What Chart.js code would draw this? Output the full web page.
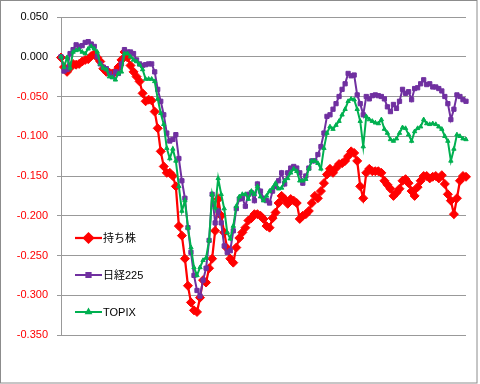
<!DOCTYPE html>
<html>
<head>
<meta charset="utf-8">
<title>持ち株 vs 日経225 vs TOPIX</title>
<script src="https://cdn.jsdelivr.net/npm/chart.js@4.4.1/dist/chart.umd.min.js"></script>
<style>
    html, body { margin: 0; padding: 0; background: #fff; }
    #wrap { position: relative; width: 480px; height: 384px; }
</style>
</head>
<body>
<div id="wrap"><canvas id="returnChart" width="480" height="384"></canvas></div>
<script>
// Series names
const seriesNames = ['持ち株', '日経225', 'TOPIX'];

// Cumulative return (one value per trading day)
const mochikabu = [
    -0.001, -0.013, -0.019, -0.014, -0.009, -0.010, -0.009, -0.006, -0.004, -0.003,
    0.001, 0.003, -0.001, -0.006, -0.015, -0.019, -0.020, -0.021, -0.019, -0.013,
    -0.004, 0.006, -0.001, -0.011, -0.019, -0.025, -0.031, -0.046, -0.056, -0.054,
    -0.055, -0.069, -0.090, -0.119, -0.138, -0.146, -0.146, -0.150, -0.163, -0.213,
    -0.225, -0.254, -0.288, -0.309, -0.319, -0.321, -0.303, -0.281, -0.284, -0.266,
    -0.254, -0.219, -0.179, -0.200, -0.221, -0.241, -0.254, -0.259, -0.240, -0.228,
    -0.221, -0.215, -0.206, -0.203, -0.198, -0.198, -0.200, -0.204, -0.213, -0.215,
    -0.203, -0.196, -0.184, -0.175, -0.179, -0.185, -0.179, -0.181, -0.184, -0.204,
    -0.200, -0.198, -0.194, -0.184, -0.175, -0.178, -0.169, -0.159, -0.148, -0.141,
    -0.146, -0.140, -0.135, -0.134, -0.131, -0.125, -0.119, -0.121, -0.131, -0.163,
    -0.178, -0.146, -0.141, -0.144, -0.144, -0.144, -0.146, -0.156, -0.161, -0.166,
    -0.175, -0.171, -0.166, -0.156, -0.154, -0.159, -0.169, -0.175, -0.164, -0.156,
    -0.150, -0.150, -0.153, -0.151, -0.150, -0.153, -0.149, -0.160, -0.173, -0.181,
    -0.198, -0.178, -0.156, -0.150, -0.151
];

const nikkei225 = [
    0.000, -0.018, -0.016, 0.004, 0.009, 0.015, 0.013, 0.014, 0.018, 0.019,
    0.016, 0.013, 0.000, -0.009, -0.013, -0.015, -0.021, -0.025, -0.019, -0.021,
    -0.009, 0.009, 0.006, 0.006, 0.004, -0.004, -0.009, -0.011, -0.010, -0.009,
    -0.009, -0.019, -0.041, -0.056, -0.073, -0.096, -0.106, -0.104, -0.098, -0.128,
    -0.156, -0.178, -0.215, -0.246, -0.275, -0.294, -0.301, -0.281, -0.266, -0.231,
    -0.173, -0.209, -0.194, -0.209, -0.238, -0.246, -0.244, -0.219, -0.191, -0.179,
    -0.178, -0.188, -0.173, -0.171, -0.181, -0.160, -0.169, -0.178, -0.181, -0.184,
    -0.169, -0.163, -0.156, -0.146, -0.160, -0.146, -0.140, -0.138, -0.140, -0.146,
    -0.159, -0.150, -0.140, -0.131, -0.131, -0.123, -0.113, -0.096, -0.075, -0.073,
    -0.066, -0.059, -0.050, -0.041, -0.034, -0.021, -0.024, -0.023, -0.048, -0.059,
    -0.073, -0.050, -0.053, -0.049, -0.048, -0.049, -0.050, -0.053, -0.063, -0.069,
    -0.060, -0.065, -0.056, -0.041, -0.046, -0.044, -0.054, -0.040, -0.039, -0.034,
    -0.029, -0.035, -0.034, -0.038, -0.038, -0.040, -0.043, -0.050, -0.059, -0.079,
    -0.066, -0.048, -0.050, -0.054, -0.056
];

const topix = [
    0.000, -0.013, -0.001, -0.014, 0.006, 0.008, 0.009, 0.006, 0.004, 0.010,
    0.013, 0.010, 0.006, -0.009, -0.014, -0.016, -0.025, -0.026, -0.029, -0.021,
    -0.019, 0.004, 0.004, 0.000, -0.004, -0.006, -0.010, -0.016, -0.028, -0.028,
    -0.028, -0.031, -0.053, -0.071, -0.085, -0.115, -0.128, -0.116, -0.131, -0.163,
    -0.194, -0.181, -0.215, -0.240, -0.265, -0.275, -0.265, -0.256, -0.253, -0.231,
    -0.173, -0.190, -0.153, -0.173, -0.191, -0.221, -0.229, -0.213, -0.188, -0.176,
    -0.173, -0.173, -0.179, -0.169, -0.173, -0.163, -0.176, -0.181, -0.175, -0.169,
    -0.165, -0.159, -0.166, -0.165, -0.156, -0.153, -0.146, -0.141, -0.144, -0.156,
    -0.156, -0.154, -0.141, -0.131, -0.131, -0.134, -0.141, -0.115, -0.096, -0.088,
    -0.091, -0.086, -0.081, -0.073, -0.066, -0.056, -0.053, -0.054, -0.066, -0.081,
    -0.113, -0.075, -0.079, -0.081, -0.083, -0.084, -0.079, -0.091, -0.096, -0.104,
    -0.106, -0.103, -0.096, -0.089, -0.090, -0.098, -0.106, -0.094, -0.090, -0.088,
    -0.079, -0.084, -0.085, -0.084, -0.085, -0.088, -0.091, -0.100, -0.106, -0.131,
    -0.116, -0.098, -0.100, -0.103, -0.104
];

// Day numbers for the category axis (not shown)
const days = mochikabu.map((_, i) => i + 1);

const FONT = '"Liberation Sans", "Noto Sans CJK JP", sans-serif';

// Legend drawn inside the plot area, Excel style
const insideLegend = {
    id: 'insideLegend',
    afterDraw(chart) {
        const ctx = chart.ctx;
        const rows = [238, 275, 312];
        chart.data.datasets.forEach((ds, i) => {
            const y = rows[i];
            ctx.save();
            ctx.strokeStyle = ds.borderColor;
            ctx.lineWidth = ds.borderWidth;
            ctx.beginPath();
            ctx.moveTo(75, y);
            ctx.lineTo(102, y);
            ctx.stroke();
            ctx.fillStyle = ds.backgroundColor;
            Chart.helpers.drawPoint(ctx, {
                pointStyle: ds.pointStyle,
                radius: ds.pointRadius,
                rotation: 0,
                borderWidth: 1
            }, 88.5, y);
            ctx.fillStyle = '#000';
            ctx.font = '11px ' + FONT;
            ctx.textBaseline = 'middle';
            ctx.fillText(ds.label, 103, y + 0.5);
            ctx.restore();
        });
        // outer chart border
        ctx.save();
        ctx.strokeStyle = '#8c8c8c';
        ctx.lineWidth = 1;
        ctx.strokeRect(0.5, 0.5, 476.5, 382.5);
        ctx.restore();
    }
};

function createReturnChart() {
    const ctx = document.getElementById('returnChart').getContext('2d');
    new Chart(ctx, {
        type: 'line',
        data: {
            labels: days,
            datasets: [
                {
                    label: seriesNames[0],
                    data: mochikabu,
                    borderColor: '#ff0000',
                    backgroundColor: '#ff0000',
                    borderWidth: 2.25,
                    pointStyle: 'rectRot',
                    pointRadius: 4.5,
                    pointBorderWidth: 1,
                    tension: 0,
                    order: 2
                },
                {
                    label: seriesNames[1],
                    data: nikkei225,
                    borderColor: '#7030a0',
                    backgroundColor: '#7030a0',
                    borderWidth: 2,
                    pointStyle: 'rect',
                    pointRadius: 3,
                    pointBorderWidth: 1,
                    tension: 0,
                    order: 1
                },
                {
                    label: seriesNames[2],
                    data: topix,
                    borderColor: '#00b050',
                    backgroundColor: '#00b050',
                    borderWidth: 2,
                    pointStyle: 'triangle',
                    pointRadius: 2.5,
                    pointBorderWidth: 1,
                    tension: 0,
                    order: 0
                }
            ]
        },
        options: {
            responsive: false,
            animation: false,
            layout: {
                padding: { top: 17, bottom: 49, left: 0, right: 14 }
            },
            scales: {
                x: {
                    type: 'category',
                    display: false
                },
                y: {
                    min: -0.35,
                    max: 0.05,
                    afterFit: (scale) => { scale.width = 61; },
                    ticks: {
                        stepSize: 0.05,
                        padding: 9,
                        font: { family: FONT, size: 11 },
                        color: (c) => c.tick.value < -1e-9 ? '#ff0000' : '#000000',
                        callback: (v) => (Math.abs(v) < 1e-9 ? 0 : v).toFixed(3)
                    },
                    grid: {
                        color: '#999999',
                        tickLength: 4
                    },
                    border: { color: '#999999' }
                }
            },
            plugins: {
                legend: { display: false },
                tooltip: { enabled: false }
            }
        },
        plugins: [insideLegend]
    });
}

document.addEventListener('DOMContentLoaded', () => {
    createReturnChart();
});
</script>
</body>
</html>
